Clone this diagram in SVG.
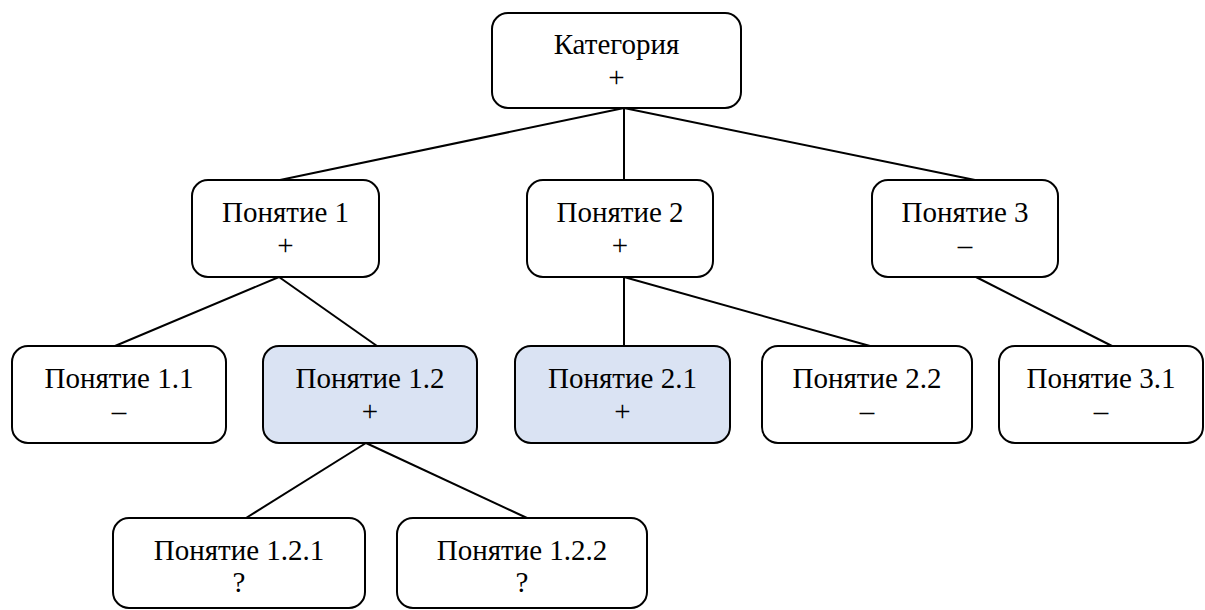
<svg xmlns="http://www.w3.org/2000/svg" width="1205" height="610" viewBox="0 0 1205 610">
<style>
.box{fill:#ffffff;stroke:#000000;stroke-width:2}
.hl{fill:#dae3f3}
.t{font-family:"Liberation Serif","Tinos","Times New Roman","DejaVu Serif","Noto Serif",serif;font-size:29px;fill:#000000;text-anchor:middle}
.c{stroke:#000000;stroke-width:2;fill:none}
</style>
<rect width="1205" height="610" fill="#ffffff"/>
<g id="connectors">
<line class="c" x1="624" y1="108" x2="280" y2="180"/>
<line class="c" x1="624" y1="108" x2="624" y2="180"/>
<line class="c" x1="624" y1="108" x2="975" y2="180"/>
<line class="c" x1="279" y1="277" x2="115" y2="346"/>
<line class="c" x1="279" y1="277" x2="377" y2="346"/>
<line class="c" x1="624" y1="277" x2="624" y2="346"/>
<line class="c" x1="624" y1="277" x2="870" y2="346"/>
<line class="c" x1="976" y1="277" x2="1112" y2="346"/>
<line class="c" x1="366" y1="443" x2="246" y2="518"/>
<line class="c" x1="366" y1="443" x2="527" y2="518"/>
</g>
<g id="n0">
<rect class="box" x="492" y="13" width="249" height="95" rx="16"/>
<text class="t" x="616.5" y="54" font-family="Liberation Serif, DejaVu Serif, serif">Категория</text>
<text class="t" x="616.5" y="87" font-family="Liberation Serif, DejaVu Serif, serif">+</text>
</g>
<g id="n1">
<rect class="box" x="192" y="180" width="187" height="97" rx="16"/>
<text class="t" x="285.5" y="222">Понятие 1</text>
<text class="t" x="285.5" y="255">+</text>
</g>
<g id="n2">
<rect class="box" x="527" y="180" width="186" height="97" rx="16"/>
<text class="t" x="620" y="222">Понятие 2</text>
<text class="t" x="620" y="255">+</text>
</g>
<g id="n3">
<rect class="box" x="872" y="180" width="186" height="97" rx="16"/>
<text class="t" x="965" y="222">Понятие 3</text>
<text class="t" x="965" y="255">–</text>
</g>
<g id="n11">
<rect class="box" x="12" y="346" width="214" height="97" rx="16"/>
<text class="t" x="119" y="388">Понятие 1.1</text>
<text class="t" x="119" y="421">–</text>
</g>
<g id="n12">
<rect class="box hl" x="263" y="346" width="214" height="97" rx="16"/>
<text class="t" x="370" y="388">Понятие 1.2</text>
<text class="t" x="370" y="421">+</text>
</g>
<g id="n21">
<rect class="box hl" x="515" y="346" width="215" height="97" rx="16"/>
<text class="t" x="622.5" y="388">Понятие 2.1</text>
<text class="t" x="622.5" y="421">+</text>
</g>
<g id="n22">
<rect class="box" x="762" y="346" width="210" height="97" rx="16"/>
<text class="t" x="867" y="388">Понятие 2.2</text>
<text class="t" x="867" y="421">–</text>
</g>
<g id="n31">
<rect class="box" x="999" y="346" width="204" height="97" rx="16"/>
<text class="t" x="1101" y="388">Понятие 3.1</text>
<text class="t" x="1101" y="421">–</text>
</g>
<g id="n121">
<rect class="box" x="113" y="518" width="252" height="90" rx="16"/>
<text class="t" x="239" y="560">Понятие 1.2.1</text>
<text class="t" x="239" y="592">?</text>
</g>
<g id="n122">
<rect class="box" x="397" y="518" width="250" height="90" rx="16"/>
<text class="t" x="522" y="560">Понятие 1.2.2</text>
<text class="t" x="522" y="592">?</text>
</g>
</svg>
